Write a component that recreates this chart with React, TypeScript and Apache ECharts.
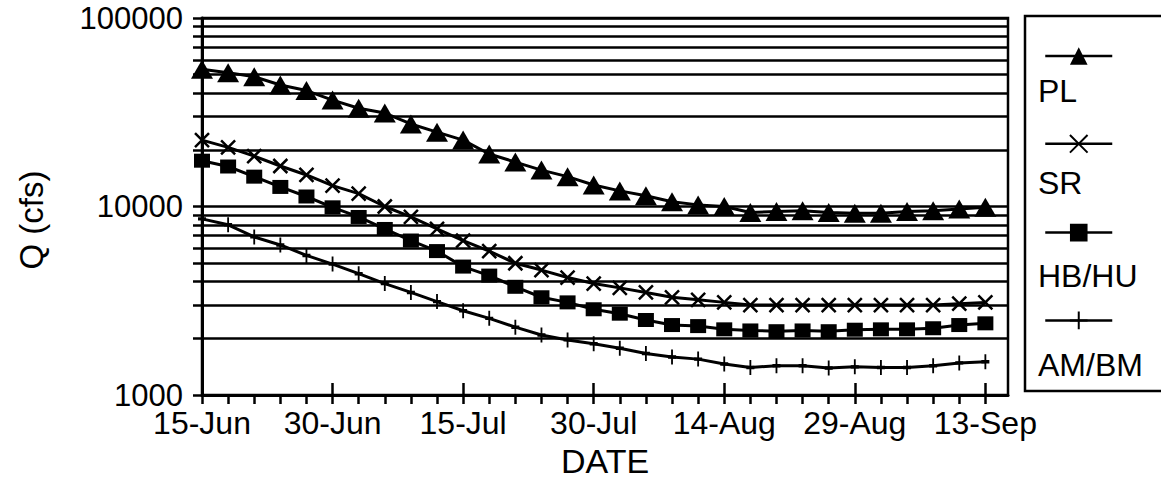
import React, { useEffect, useRef } from 'react';
import * as echarts from 'echarts';

const FONT = '"Liberation Sans", Arial, Helvetica, sans-serif';

// days after 15-Jun for each sample
const dayOffsets = [0, 3, 6, 9, 12, 15, 18, 21, 24, 27, 30, 33, 36, 39, 42, 45, 48, 51, 54, 57, 60, 63, 66, 69, 72, 75, 78, 81, 84, 87, 90];
const majorTickDays = [0, 15, 30, 45, 60, 75, 90];
const tickLabels = ['15-Jun', '30-Jun', '15-Jul', '30-Jul', '14-Aug', '29-Aug', '13-Sep'];
const yTickValues = [1000, 2000, 3000, 4000, 5000, 6000, 7000, 8000, 9000, 10000, 20000, 30000, 40000, 50000, 60000, 70000, 80000, 90000, 100000];
const yLabelValues = [1000, 10000, 100000];

const seriesNames = ['PL', 'SR', 'HB/HU', 'AM/BM'];
const plValues = [53400, 51300, 48800, 44100, 41200, 36700, 33200, 31300, 27400, 24800, 22500, 19000, 17200, 15600, 14400, 13000, 12100, 11400, 10600, 10200, 10000, 9300, 9400, 9500, 9300, 9200, 9200, 9400, 9500, 9700, 9900];
const srValues = [22500, 20600, 18500, 16400, 14700, 12900, 11700, 10000, 8800, 7600, 6600, 5800, 5000, 4600, 4200, 3900, 3700, 3500, 3300, 3200, 3100, 3000, 3000, 3000, 3000, 3000, 3000, 3000, 3000, 3050, 3100];
const hbValues = [17500, 16300, 14400, 12700, 11300, 9900, 8800, 7600, 6600, 5800, 4800, 4300, 3750, 3300, 3100, 2850, 2700, 2500, 2350, 2320, 2230, 2200, 2180, 2200, 2180, 2220, 2230, 2230, 2260, 2350, 2400];
const amValues = [8600, 8000, 6900, 6250, 5500, 4950, 4400, 3900, 3500, 3130, 2800, 2550, 2290, 2080, 1960, 1870, 1770, 1660, 1590, 1550, 1460, 1400, 1430, 1430, 1390, 1410, 1400, 1400, 1430, 1480, 1500];

const X_MAX = 92.6;

export default function App() {
  const ref = useRef<HTMLDivElement>(null);
  useEffect(() => {
    if (!ref.current) return;
    const chart = echarts.init(ref.current, null, { renderer: 'svg' });
    const mk = (vals: number[]) => dayOffsets.map((d, i) => [d, vals[i]]);
    const lineStyle = { color: '#000', width: 3 };
    const symbols = [
      { symbol: 'triangle', symbolSize: [22, 19], itemStyle: { color: '#000' } },
      { symbol: 'path://M0,0L10,10M0,10L10,0', symbolSize: 14, itemStyle: { color: '#000', borderColor: '#000', borderWidth: 2.5 } },
      { symbol: 'rect', symbolSize: [16, 14], itemStyle: { color: '#000' } },
      { symbol: 'path://M0,8L8,8M4,0L4,16', symbolSize: [8, 15], itemStyle: { color: '#000', borderColor: '#000', borderWidth: 2.5 } },
    ];
    const values = [plValues, srValues, hbValues, amValues];
    const legendTextY = [91, 183, 276, 365];
    const option: any = {
      animation: false,
      backgroundColor: '#fff',
      textStyle: { fontFamily: FONT, color: '#000' },
      grid: { left: 202, right: 153, top: 18, bottom: 89, show: true, borderColor: '#000', borderWidth: 2.5, containLabel: false },
      xAxis: [
        {
          type: 'value', min: 0, max: X_MAX, position: 'bottom',
          axisLine: { show: true, onZero: false, lineStyle: { color: '#000', width: 3 } },
          axisTick: { show: true, inside: true, length: 12, customValues: majorTickDays, lineStyle: { color: '#000', width: 2.5 } },
          axisLabel: {
            show: true, customValues: majorTickDays, margin: 12, color: '#000', fontFamily: FONT, fontSize: 32,
            formatter: (v: number) => tickLabels[Math.round(v / 15)] ?? '',
          },
          splitLine: { show: false },
          name: 'DATE', nameLocation: 'middle', nameGap: 40,
          nameTextStyle: { color: '#000', fontFamily: FONT, fontSize: 34 },
        },
        {
          type: 'value', min: 0, max: X_MAX, position: 'bottom',
          axisLine: { show: false, onZero: false },
          axisTick: { show: true, inside: false, length: 9, customValues: dayOffsets, lineStyle: { color: '#000', width: 2.5 } },
          axisLabel: { show: false },
          splitLine: { show: false },
        },
      ],
      yAxis: {
        type: 'log', logBase: 10, min: 1000, max: 100000,
        axisLine: { show: true, onZero: false, lineStyle: { color: '#000', width: 3 } },
        axisTick: { show: true, inside: false, length: 9, customValues: yTickValues, lineStyle: { color: '#000', width: 2.5 } },
        axisLabel: {
          show: true, customValues: yLabelValues, margin: 19, color: '#000', fontFamily: FONT, fontSize: 31,
          formatter: (v: number) => String(Math.round(v)),
        },
        splitLine: { show: true, lineStyle: { color: '#000', width: 2.5 } },
      },
      legend: {
        orient: 'vertical', left: 1039, top: 40, itemWidth: 67, itemHeight: 22, itemGap: 68,
        data: seriesNames, formatter: () => '', textStyle: { fontSize: 1 }, selectedMode: false,
        lineStyle: { width: 2.5 },
      },
      graphic: [
        { type: 'rect', shape: { x: 1025, y: 16, width: 200, height: 375 }, style: { fill: 'none', stroke: '#000', lineWidth: 2.5 } },
        {
          type: 'text', x: 31, y: 220, rotation: Math.PI / 2,
          style: { text: 'Q (cfs)', fontFamily: FONT, fontSize: 33, fill: '#000', align: 'center', verticalAlign: 'middle' },
        },
        ...seriesNames.map((n, i) => ({
          type: 'text', x: 1038, y: legendTextY[i],
          style: { text: n, fontFamily: FONT, fontSize: 32, fill: '#000', verticalAlign: 'middle', align: 'left' },
        })),
      ],
      series: seriesNames.map((n, i) => ({
        name: n, type: 'line', xAxisIndex: 0, data: mk(values[i]),
        lineStyle, ...symbols[i], showSymbol: true, silent: true, z: 3 + i,
      })),
    };
    chart.setOption(option);
    return () => chart.dispose();
  }, []);
  return <div ref={ref} style={{ position: 'fixed', left: 0, top: 0, width: 1161, height: 484 }} />;
}
